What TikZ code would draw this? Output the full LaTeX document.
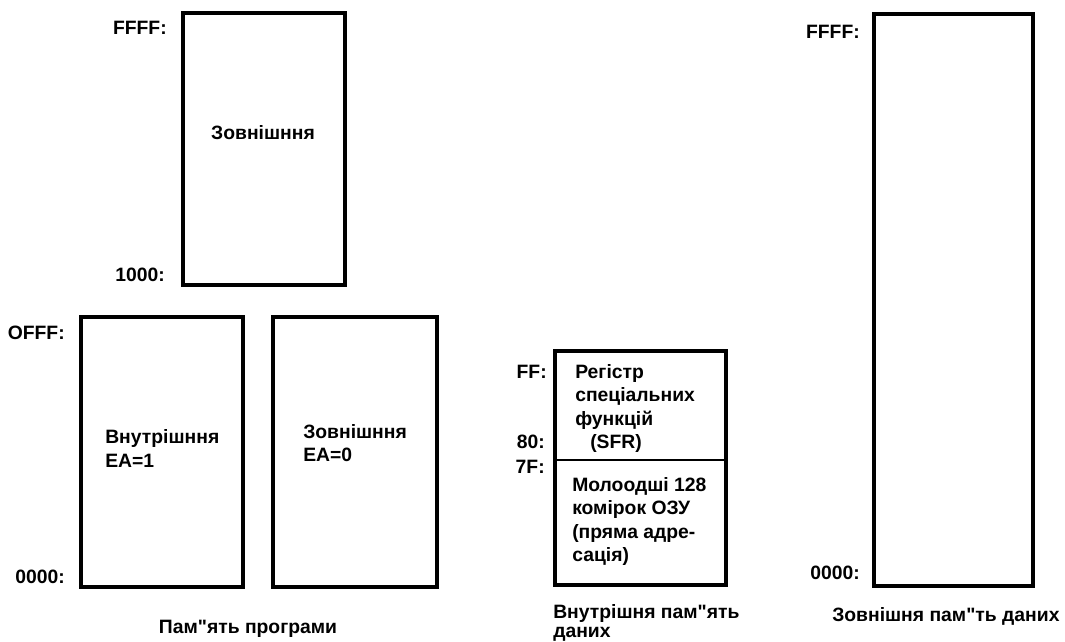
\documentclass[tikz,border=0pt]{standalone}
\usepackage{fontspec}
\setmainfont{Liberation Sans}[Ligatures=TeXOff]
\begin{document}
\begin{tikzpicture}[x=0.75pt,y=-0.75pt,
  lbl/.style={inner sep=0pt,font=\fontsize{14.5}{17}\selectfont\bfseries},
  membox/.style={line width=3pt,line join=miter},
  divline/.style={line width=1.5pt}]
\useasboundingbox (0,0) rectangle (1065,642);
% program memory
\draw[membox] (183,13) rectangle (345,285);
\draw[membox] (81,317) rectangle (243,587);
\draw[membox] (273,317) rectangle (437,587);
\node[lbl,anchor=base east] (ffffA) at (167,34.5) {FFFF:};
\node[lbl,anchor=base east] (k1000) at (165,281.5) {1000:};
\node[lbl,anchor=base] (extA) at (263,139.5) {Зовнішння};
\node[lbl,anchor=base east] (offf) at (65,339.5) {OFFF:};
\node[lbl,anchor=base east] (zeroA) at (65,583.5) {0000:};
\node[lbl,anchor=base west] (intB) at (105,443.5) {Внутрішння};
\node[lbl,anchor=base west] (ea1) at (105,467.5) {EA=1};
\node[lbl,anchor=base west] (extB) at (303,438.5) {Зовнішння};
\node[lbl,anchor=base west] (ea0) at (303,461.5) {EA=0};
\node[lbl,anchor=base] (progcap) at (248,633) {Пам"ять програми};
% internal data memory
\draw[membox] (555,351) rectangle (726,585);
\draw[divline] (555,460) -- (726,460);
\node[lbl,anchor=base east] (ffB) at (547,378.5) {FF:};
\node[lbl,anchor=base east] (k80) at (545,448.5) {80:};
\node[lbl,anchor=base east] (k7f) at (545,473) {7F:};
\node[lbl,anchor=base west] (s1) at (575,378) {Регістр};
\node[lbl,anchor=base west] (s2) at (575,401.5) {спеціальних};
\node[lbl,anchor=base west] (s3) at (575,425) {функцій};
\node[lbl,anchor=base west] (s4) at (590,448) {(SFR)};
\node[lbl,anchor=base west] (r1) at (572,491) {Молоодші 128};
\node[lbl,anchor=base west] (r2) at (572,514.5) {комірок ОЗУ};
\node[lbl,anchor=base west] (r3) at (572,538) {(пряма адре-};
\node[lbl,anchor=base west] (r4) at (572,561.5) {сація)};
\node[lbl,anchor=base west] (intcap1) at (553,618.5) {Внутрішня пам"ять};
\node[lbl,anchor=base west] (intcap2) at (553,637) {даних};
% external data memory
\draw[membox] (874,14) rectangle (1033,586);
\node[lbl,anchor=base east] (ffffC) at (860,38.5) {FFFF:};
\node[lbl,anchor=base east] (zeroC) at (860,579.5) {0000:};
\node[lbl,anchor=base west] (extcap) at (832,621) {Зовнішня пам"ть даних};
\end{tikzpicture}
\end{document}
